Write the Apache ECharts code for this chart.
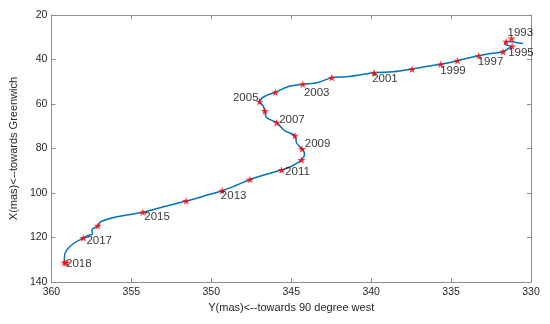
<!DOCTYPE html>
<html>
<head>
<meta charset="utf-8">
<script src="https://cdn.jsdelivr.net/npm/echarts@6/dist/echarts.min.js"></script>
<style>
html,body{margin:0;padding:0;background:#fff;}
#chart{width:550px;height:324px;}
</style>
</head>
<body>
<div id="chart"></div>
<script>
// Yearly marker positions (Y in mas, X in mas)
const years = [1993,1994,1995,1996,1997,1998,1999,2000,2001,2002,2003,2004,2005,2006,2007,2008,2009,2010,2011,2012,2013,2014,2015,2016,2017,2018];
const starY = [331.22,331.56,331.18,331.75,333.27,334.60,335.65,337.44,339.81,342.46,344.27,345.99,346.98,346.65,345.91,344.77,344.32,344.36,345.60,347.58,349.32,351.57,354.28,357.09,358.00,359.19];
const starX = [30.56,32.00,34.07,36.49,38.34,40.54,42.16,44.36,45.93,48.18,51.15,54.74,58.97,63.15,68.40,74.25,80.22,85.17,89.66,93.93,98.97,103.60,108.67,114.70,120.22,131.33];
const labelYears = [1993,1995,1997,1999,2001,2003,2005,2007,2009,2011,2013,2015,2017,2018];

// Continuous pole path (Y, X in mas)
const pathY = [330.50,330.93,331.30,331.56,331.64,331.24,331.43,331.75,332.54,333.27,333.90,334.60,335.14,335.65,336.57,337.44,338.62,339.81,341.40,342.46,343.33,344.27,345.25,345.99,346.67,346.98,346.77,346.65,346.55,345.91,345.43,344.77,344.66,344.32,344.16,344.36,344.94,345.60,346.61,347.58,348.47,349.32,350.45,351.57,352.93,354.28,355.89,356.92,357.09,357.46,357.43,357.71,358.00,358.57,359.04,359.19,359.19,359.07];
const pathX = [32.81,32.36,31.91,32.00,33.03,34.16,35.06,36.49,37.30,38.34,39.33,40.54,41.48,42.16,43.15,44.36,45.53,45.93,47.64,48.18,50.34,51.15,52.36,54.74,56.63,58.97,60.67,63.15,66.07,68.40,71.91,74.25,77.53,80.22,82.47,85.17,87.87,89.66,91.69,93.93,96.63,98.97,101.35,103.60,106.07,108.67,110.65,112.90,114.70,116.63,118.43,119.10,120.22,122.47,125.62,128.76,131.33,131.33];

const xTicks = {min:330, max:360, interval:5};
const yTicks = {min:20, max:140, interval:20};
const xTitle = 'Y(mas)<--towards 90 degree west';
const yTitle = 'X(mas)<--towards Greenwich';

// label placement (layout only): [position, dx, dy]
const labelPlace = {
  1993:['right',-8,-5.5], 1995:['right',-8,6.7], 1997:['right',-5,5.7], 1999:['right',-4.5,6.7],
  2001:['right',-6,6.5], 2003:['right',-3,9], 2005:['left',3,-3.7], 2007:['right',-1.5,-3],
  2009:['right',-1.3,-5], 2011:['right',-0.5,2], 2013:['right',-5.3,5.3], 2015:['right',-2.6,4.7],
  2017:['right',-1,2.5], 2018:['right',-2.3,1.5]
};

const STAR = 'path://M0,-1L0.2245,-0.309L0.9511,-0.309L0.3633,0.118L0.5878,0.809L0,0.382L-0.5878,0.809L-0.3633,0.118L-0.9511,-0.309L-0.2245,-0.309Z';
const FONT = "'Liberation Sans', Arial, Helvetica, sans-serif";
const AXC = '#8c8c8c';

const pathData = pathY.map((v,i)=>[v, pathX[i]]);
const starData = years.map((yr,i)=>{
  const d = {value:[starY[i], starX[i]], name:String(yr)};
  const lp = labelPlace[yr];
  if (labelYears.includes(yr) && lp) {
    d.label = {show:true, position:lp[0], distance:0, offset:[lp[1], lp[2]], formatter:String(yr),
      fontFamily:FONT, fontSize:11.5, color:'#000000'};
  }
  return d;
});
const endData = [[pathY[pathY.length-1], pathX[pathX.length-1]]];

const axisCommon = {
  axisLine:{show:true, onZero:false, lineStyle:{color:AXC, width:1}},
  axisTick:{show:true, inside:true, length:4, lineStyle:{color:AXC}},
  splitLine:{show:false}
};

const chart = echarts.init(document.getElementById('chart'), null, {renderer:'canvas'});
chart.setOption({
  animation:false,
  backgroundColor:'#fff',
  grid:{left:48, right:19, top:15, bottom:42, containLabel:false},
  xAxis:[
    Object.assign({type:'value', position:'bottom', inverse:true, min:xTicks.min, max:xTicks.max, interval:xTicks.interval,
      name:xTitle, nameLocation:'middle', nameGap:17,
      nameTextStyle:{fontFamily:FONT, fontSize:11, color:'#262626'},
      axisLabel:{fontFamily:FONT, fontSize:10.5, color:'#262626', margin:5}}, axisCommon),
    Object.assign({type:'value', position:'top', inverse:true, min:xTicks.min, max:xTicks.max, interval:xTicks.interval,
      axisLabel:{show:false}}, axisCommon)
  ],
  yAxis:[
    Object.assign({type:'value', position:'left', inverse:true, min:yTicks.min, max:yTicks.max, interval:yTicks.interval,
      name:yTitle, nameLocation:'middle', nameGap:22,
      nameTextStyle:{fontFamily:FONT, fontSize:11, color:'#262626'},
      axisLabel:{fontFamily:FONT, fontSize:10.5, color:'#262626', margin:4}}, axisCommon),
    Object.assign({type:'value', position:'right', inverse:true, min:yTicks.min, max:yTicks.max, interval:yTicks.interval,
      axisLabel:{show:false}}, axisCommon)
  ],
  series:[
    {type:'line', data:pathData, smooth:0.35, symbol:'none', z:2,
     lineStyle:{color:'#0072BD', width:1.5}},
    {type:'scatter', data:starData, symbol:STAR, symbolSize:[8,7.6], z:3,
     itemStyle:{color:'#ff0000'},
     label:{show:false, fontFamily:FONT, fontSize:11.5, color:'#000000'}},
    {type:'scatter', data:endData, symbol:STAR, symbolSize:[8,7.6], z:3,
     itemStyle:{color:'#ff0000'}}
  ]
});
</script>
</body>
</html>
